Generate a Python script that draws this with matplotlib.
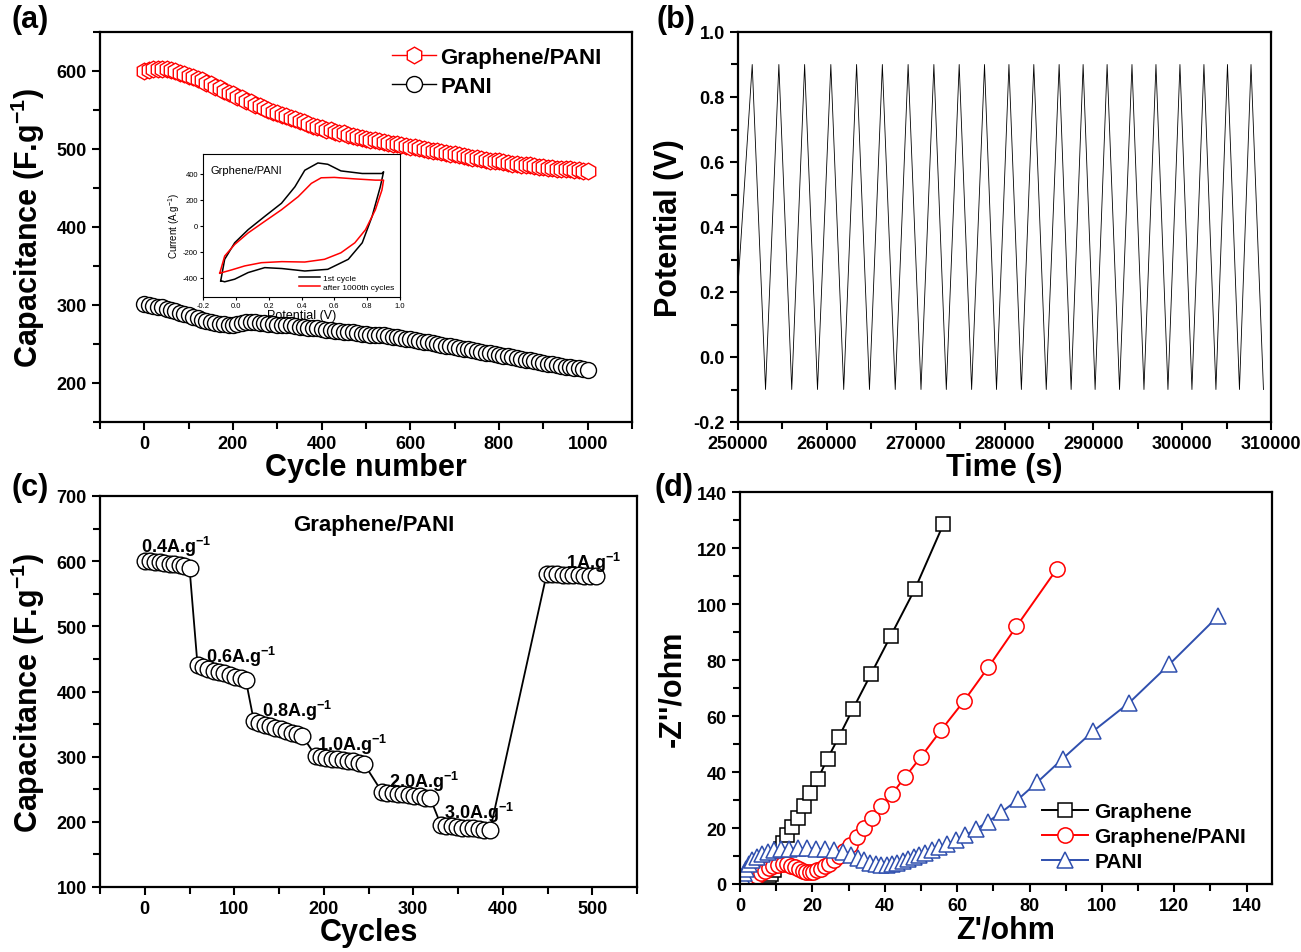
import numpy as np
import matplotlib
matplotlib.use('Agg')
import matplotlib.pyplot as plt
from matplotlib.ticker import MultipleLocator, FormatStrFormatter

plt.rcParams['font.family'] = ['Liberation Sans', 'DejaVu Sans']
plt.rcParams['font.weight'] = 'bold'
plt.rcParams['axes.labelweight'] = 'bold'
plt.rcParams['axes.unicode_minus'] = False
plt.rcParams['mathtext.default'] = 'regular'

W, H = 1301, 953
RED = '#ff0000'
BLUE = '#2f4fae'

# ---------------- (a) cycling stability ----------------
cycles_a = np.arange(0, 1001, 10)
cap_gp = [600, 601, 602, 603, 603, 602, 601, 600, 598, 596,
          594, 592, 590, 588, 585, 583, 580, 578, 575, 572,
          570, 567, 565, 562, 560, 557, 555, 552, 550, 548,
          546, 544, 542, 540, 538, 536, 534, 532, 530, 528,
          527, 525, 524, 522, 521, 520, 518, 517, 516, 514,
          513, 512, 511, 510, 509, 508, 507, 506, 505, 504,
          503, 502, 501, 500, 499, 498, 497, 496, 495, 494,
          493, 492, 491, 490, 489, 488, 487, 486, 485, 485,
          484, 483, 482, 481, 481, 480, 479, 479, 478, 477,
          477, 476, 476, 475, 475, 474, 474, 473, 473, 472, 472]
cap_pani = [301, 300, 299, 298, 297, 295, 294, 292, 290, 289,
            287, 285, 283, 281, 279, 278, 277, 276, 276, 275,
            275, 276, 277, 278, 278, 278, 277, 277, 276, 276,
            275, 275, 274, 274, 273, 272, 272, 271, 270, 270,
            269, 268, 268, 267, 267, 266, 265, 265, 264, 263,
            263, 262, 262, 261, 261, 260, 259, 259, 258, 257,
            256, 255, 254, 253, 252, 251, 250, 249, 248, 247,
            246, 245, 244, 243, 242, 241, 240, 239, 238, 237,
            236, 235, 234, 233, 232, 231, 230, 229, 228, 227,
            226, 225, 224, 223, 222, 221, 220, 219, 219, 218, 217]

# inset CV curves (potential V, current A/g)
cv1_v = [-0.092, -0.068, -0.007, 0.075, 0.176, 0.278, 0.36, 0.42, 0.50, 0.56, 0.64, 0.77, 0.89, 0.90,
         0.88, 0.83, 0.77, 0.685, 0.56, 0.42, 0.28, 0.176, 0.075, -0.007, -0.068, -0.092]
cv1_i = [-425, -260, -133, -32, 70, 171, 298, 425, 481, 471, 420, 400, 400, 413,
         298, 70, -133, -260, -337, -350, -331, -324, -362, -413, -433, -425]
cv2_v = [-0.098, -0.068, -0.007, 0.075, 0.176, 0.278, 0.38, 0.46, 0.52, 0.60, 0.72, 0.85, 0.90,
         0.89, 0.85, 0.79, 0.725, 0.64, 0.54, 0.42, 0.28, 0.156, 0.054, -0.027, -0.098]
cv2_i = [-367, -235, -146, -57, 32, 121, 222, 324, 367, 370, 359, 349, 349,
         273, 121, -32, -133, -210, -260, -281, -278, -286, -311, -342, -367]

# ---------------- (b) charge/discharge ----------------
t_start, v_start = 250000, 0.22
peak_times = [251600, 254600, 257500, 260450, 263350, 266250, 269150, 272050, 274900, 277750, 280500,
              283300, 286150, 288850, 291550, 294350, 297050, 299750, 302450, 305100, 307750]
trough_times = [253100, 256050, 258950, 261900, 264800, 267700, 270600, 273450, 276300, 279100, 281900,
                284700, 287500, 290200, 292950, 295700, 298400, 301100, 303800, 306450, 309150]
V_PEAK, V_TROUGH = 0.9, -0.1

# ---------------- (c) rate capability ----------------
rate_cycles = [[0, 6, 11, 17, 22, 28, 33, 39, 44, 50],
               [59, 65, 71, 77, 83, 89, 95, 101, 107, 113],
               [122, 128, 134, 140, 146, 152, 158, 164, 170, 176],
               [191, 197, 203, 209, 215, 221, 227, 233, 239, 245],
               [265, 271, 277, 283, 289, 295, 301, 307, 313, 319],
               [331, 337, 343, 349, 355, 361, 367, 373, 379, 386],
               [449, 455, 461, 467, 473, 479, 485, 491, 497, 504]]
rate_cap = [[601, 600, 599, 598, 597, 596, 595, 594, 592, 590],
            [440, 437, 435, 432, 430, 428, 425, 423, 420, 417],
            [354, 352, 349, 347, 344, 342, 340, 337, 335, 332],
            [301, 300, 298, 297, 296, 295, 294, 293, 291, 289],
            [246, 245, 244, 243, 242, 241, 240, 239, 237, 236],
            [195, 194, 193, 192, 191, 190, 190, 189, 188, 188],
            [580, 580, 580, 579, 579, 579, 579, 578, 578, 578]]
rate_labels = ['0.4A.g$^{-1}$', '0.6A.g$^{-1}$', '0.8A.g$^{-1}$', '1.0A.g$^{-1}$',
               '2.0A.g$^{-1}$', '3.0A.g$^{-1}$', '1A.g$^{-1}$']
label_pos = [(-4, 624), (68, 454), (131, 371), (192, 319), (273, 263), (334, 215), (471, 599)]

# ---------------- (d) Nyquist ----------------
g_re = [4.6, 5.0, 5.4, 5.8, 6.2, 6.6, 7.0, 7.5, 8.0, 8.6, 9.3, 9.9, 10.5, 11.2, 11.9, 12.9,
        14.4, 15.9, 17.7, 19.3, 21.5, 24.2, 27.3, 31.2, 36.2, 41.6, 48.4, 56.2]
g_im = [0.2, 0.5, 0.8, 1.1, 1.4, 1.8, 2.2, 2.6, 3.0, 3.6, 5.0, 7.5, 10.0, 12.5, 14.5, 17.5,
        20.5, 23.5, 28.0, 32.5, 37.5, 44.8, 52.5, 62.5, 75.0, 88.5, 105.5, 128.5]
gp_re = [3.0, 3.8, 4.7, 5.7, 6.8, 8.0, 9.2, 10.5, 11.8, 13.0, 14.2, 15.3, 16.3, 17.3, 18.3, 19.3,
         20.3, 21.3, 22.3, 23.4, 24.6, 25.9, 27.3, 28.8, 30.4, 32.2, 34.2, 36.4, 39.0, 42.0,
         45.6, 50.0, 55.6, 61.8, 68.6, 76.4, 87.6]
gp_im = [0.8, 1.8, 2.8, 3.8, 4.8, 5.7, 6.4, 6.9, 7.1, 7.0, 6.6, 6.0, 5.3, 4.7, 4.3, 4.2,
         4.4, 4.9, 5.5, 6.3, 7.3, 8.5, 10.0, 11.9, 14.1, 16.8, 20.0, 23.6, 27.8, 32.2,
         38.2, 45.4, 55.0, 65.2, 77.4, 92.0, 112.6]
p_re = [0.3, 0.6, 1.0, 1.6, 2.4, 3.4, 4.6, 6.0, 7.6, 9.4, 11.4, 13.6, 16.0, 18.5, 21.0, 23.5,
        26.0, 28.4, 30.6, 32.6, 34.4, 36.0, 37.5, 39.0, 40.5, 42.0, 43.5, 45.0, 46.5, 48.0,
        49.5, 51.2, 53.0, 55.0, 57.2, 59.6, 62.2, 65.2, 68.5, 72.2, 76.8, 82.2, 89.2, 97.6,
        107.6, 118.6, 132.2]
p_im = [1.0, 2.5, 4.0, 5.5, 7.0, 8.4, 9.6, 10.6, 11.4, 12.0, 12.4, 12.6, 12.7, 12.7, 12.6, 12.4,
        12.0, 11.3, 10.4, 9.4, 8.4, 7.6, 7.0, 6.7, 6.8, 7.1, 7.6, 8.2, 8.9, 9.6,
        10.4, 11.2, 12.1, 13.1, 14.3, 15.7, 17.4, 19.6, 22.2, 25.6, 30.2, 36.4, 44.8, 54.6,
        64.8, 78.4, 95.8]


def rect(l, t, r, b):
    return [l / W, 1 - b / H, (r - l) / W, (b - t) / H]


def style(ax, size=13):
    for s in ax.spines.values():
        s.set_linewidth(1.6)
    ax.tick_params(which='both', direction='out', top=False, right=False, width=1.5, labelsize=size)
    ax.tick_params(which='major', length=6)
    ax.tick_params(which='minor', length=5)


fig = plt.figure(figsize=(W / 100, H / 100), dpi=100)

# (a)
ax = fig.add_axes(rect(100, 33, 632, 423))
ax.plot(cycles_a, cap_gp, '-h', color=RED, mfc='white', mec=RED, ms=12, mew=1.0, lw=1, label='Graphene/PANI')
ax.plot(cycles_a, cap_pani, '-o', color='black', mfc='white', mec='black', ms=11.5, mew=1.0, lw=1, label='PANI')
ax.set_xlim(-100, 1100)
ax.set_ylim(150, 650)
ax.xaxis.set_major_locator(MultipleLocator(200))
ax.xaxis.set_minor_locator(MultipleLocator(100))
ax.yaxis.set_major_locator(MultipleLocator(100))
ax.yaxis.set_minor_locator(MultipleLocator(50))
style(ax)
ax.set_xlabel('Cycle number', fontsize=22, labelpad=0)
ax.set_ylabel('Capacitance (F.g$^{-1}$)', fontsize=22, labelpad=7)
ax.legend(loc='upper right', bbox_to_anchor=(0.96, 0.985), frameon=False, fontsize=16,
          handlelength=2.0, handletextpad=0.2, labelspacing=0.35, borderaxespad=0, numpoints=1)

ins = fig.add_axes(rect(203, 155, 400, 298))
ins.plot(cv1_v, cv1_i, color='black', lw=1.1, label='1st cycle')
ins.plot(cv2_v, cv2_i, color=RED, lw=1.1, label='after 1000th cycles')
ins.set_xlim(-0.2, 1.0)
ins.set_ylim(-550, 550)
for s in ins.spines.values():
    s.set_linewidth(0.8)
ins.tick_params(direction='out', top=False, right=False, length=2.5, width=0.8, pad=1)
ins.set_xticks([-0.2, 0.0, 0.2, 0.4, 0.6, 0.8, 1.0])
ins.set_xticklabels(['-0.2', '0.0', '0.2', '0.4', '0.6', '0.8', '1.0'], fontweight='normal', fontsize=5.5)
ins.set_yticks([-400, -200, 0, 200, 400])
ins.set_yticklabels(['-400', '-200', '0', '200', '400'], fontweight='normal', fontsize=5.5)
ins.set_xlabel('Potential (V)', fontsize=9, fontweight='normal', labelpad=0)
ins.set_ylabel('Current (A.g$^{-1}$)', fontsize=7, fontweight='normal', labelpad=1)
ins.text(0.04, 0.92, 'Grphene/PANI', transform=ins.transAxes, fontsize=8, fontweight='normal', va='top')
ins.legend(loc='lower right', frameon=False, prop={'size': 6, 'weight': 'normal'},
           handlelength=2.6, handletextpad=0.3, labelspacing=0.2, borderaxespad=0.3)

# (b)
tt = [t_start]
vv = [v_start]
for tp, tr in zip(peak_times, trough_times):
    tt += [tp, tr]
    vv += [V_PEAK, V_TROUGH]
ax = fig.add_axes(rect(738, 33, 1271, 423))
ax.plot(tt, vv, color='black', lw=0.6)
ax.set_xlim(250000, 310000)
ax.set_ylim(-0.2, 1.0)
ax.xaxis.set_major_locator(MultipleLocator(10000))
ax.xaxis.set_minor_locator(MultipleLocator(5000))
ax.yaxis.set_major_locator(MultipleLocator(0.2))
ax.yaxis.set_minor_locator(MultipleLocator(0.1))
ax.yaxis.set_major_formatter(FormatStrFormatter('%.1f'))
style(ax)
ax.set_xlabel('Time (s)', fontsize=22, labelpad=0)
ax.set_ylabel('Potential (V)', fontsize=22, labelpad=7)

# (c)
ax = fig.add_axes(rect(100, 497, 637, 888))
all_c = sum(rate_cycles, [])
all_v = sum(rate_cap, [])
ax.plot(all_c, all_v, '-o', color='black', mfc='white', mec='black', ms=12, mew=1.0, lw=1.3)
for lab, (x, y) in zip(rate_labels, label_pos):
    ax.text(x, y, lab, fontsize=13, va='center', ha='left')
ax.text(256, 657, 'Graphene/PANI', fontsize=16, ha='center', va='center')
ax.set_xlim(-50, 550)
ax.set_ylim(100, 700)
ax.xaxis.set_major_locator(MultipleLocator(100))
ax.xaxis.set_minor_locator(MultipleLocator(50))
ax.yaxis.set_major_locator(MultipleLocator(100))
ax.yaxis.set_minor_locator(MultipleLocator(50))
style(ax)
ax.set_xlabel('Cycles', fontsize=22, labelpad=0)
ax.set_ylabel('Capacitance (F.g$^{-1}$)', fontsize=22, labelpad=7)

# (d)
ax = fig.add_axes(rect(740, 493, 1272, 885))
ax.plot(g_re, g_im, '-s', color='black', mfc='white', mec='black', ms=10, mew=1.1, lw=1.4, label='Graphene')
ax.plot(gp_re, gp_im, '-o', color=RED, mfc='white', mec=RED, ms=11, mew=1.1, lw=1.4, label='Graphene/PANI')
ax.plot(p_re, p_im, '-^', color=BLUE, mfc='white', mec=BLUE, ms=11, mew=1.1, lw=1.4, label='PANI')
ax.set_xlim(0, 147)
ax.set_ylim(0, 140)
ax.xaxis.set_major_locator(MultipleLocator(20))
ax.xaxis.set_minor_locator(MultipleLocator(10))
ax.yaxis.set_major_locator(MultipleLocator(20))
ax.yaxis.set_minor_locator(MultipleLocator(10))
style(ax)
ax.set_xlabel("Z'/ohm", fontsize=22, labelpad=0)
ax.set_ylabel("-Z''/ohm", fontsize=22, labelpad=7)
ax.legend(loc='lower right', bbox_to_anchor=(0.975, 0.0), frameon=False, fontsize=15,
          handlelength=2.2, handletextpad=0.3, labelspacing=0.3, borderaxespad=0.2, numpoints=1)

for lab, x, y in [('(a)', 12, 20), ('(b)', 657, 20), ('(c)', 12, 488), ('(d)', 655, 488)]:
    fig.text(x / W, 1 - y / H, lab, fontsize=22, va='center', ha='left')

fig.savefig('out.png', dpi=100)
